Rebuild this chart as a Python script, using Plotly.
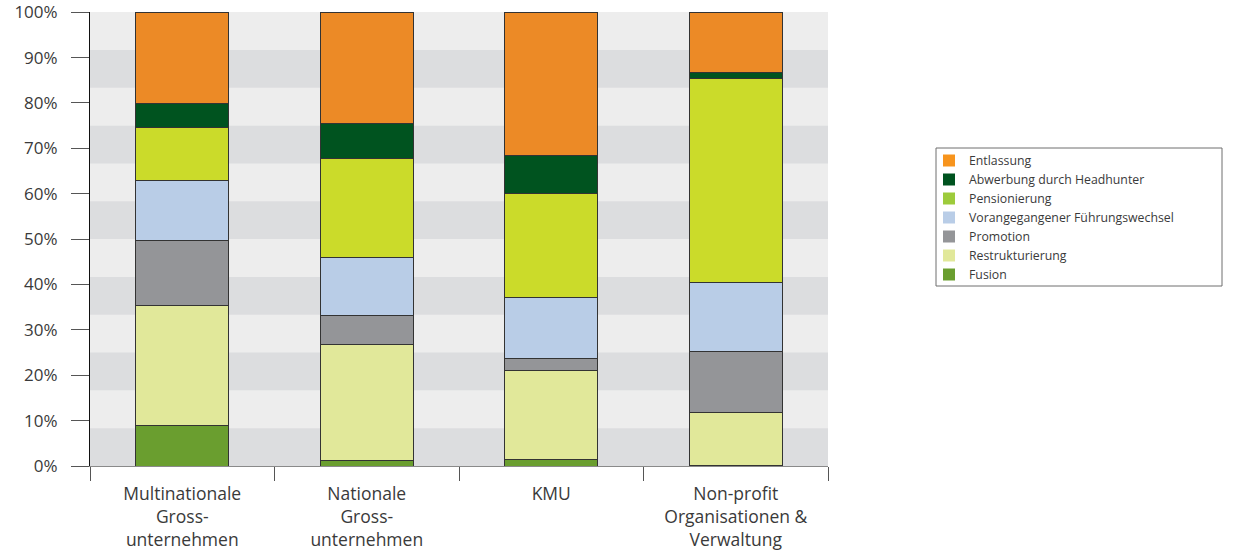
import plotly.graph_objects as go

# Categories (x axis) and stacked shares in percent, bottom to top
categories = [
    "Multinationale<br>Gross-<br>unternehmen",
    "Nationale<br>Gross-<br>unternehmen",
    "KMU",
    "Non-profit<br>Organisationen &<br>Verwaltung",
]

fusion = [9.0, 1.2, 1.5, 0.2]
restrukturierung = [26.4, 25.6, 19.6, 11.7]
promotion = [14.3, 6.4, 2.5, 13.3]
fuehrungswechsel = [13.2, 12.8, 13.6, 15.3]
pensionierung = [11.8, 21.8, 22.8, 45.0]
headhunter = [5.1, 7.7, 8.5, 1.3]
entlassung = [20.2, 24.5, 31.5, 13.2]

series_names = [
    "Fusion",
    "Restrukturierung",
    "Promotion",
    "Vorangegangener Führungswechsel",
    "Pensionierung",
    "Abwerbung durch Headhunter",
    "Entlassung",
]
series_values = [fusion, restrukturierung, promotion, fuehrungswechsel,
                 pensionierung, headhunter, entlassung]
bar_colors = ["#6A9E2F", "#E1E89A", "#949598", "#B9CDE7", "#CBDB2A", "#00531F", "#EC8A26"]
legend_colors = ["#6A9E2F", "#E1E89A", "#949598", "#B9CDE7", "#9DCB3B", "#00531F", "#F7941D"]

y_ticks = list(range(0, 101, 10))
y_tick_text = [f"{v}%" for v in y_ticks]

font_family = "Open Sans, DejaVu Sans, sans-serif"
text_color = "#3a3a3a"

fig = go.Figure()

for name, vals, col in zip(series_names, series_values, bar_colors):
    fig.add_trace(go.Bar(
        x=categories, y=vals, name=name, width=0.505,
        marker=dict(color=col, line=dict(color="#333333", width=1)),
        showlegend=False, hoverinfo="x+y+name",
    ))

# Legend entries (swatch colours as shown in the key)
for name, col in zip(series_names, legend_colors):
    fig.add_trace(go.Bar(
        x=[None], y=[None], name=name,
        marker=dict(color=col, line=dict(width=0)),
        showlegend=True,
    ))

# Alternating horizontal background bands (12 bands)
n_bands = 12
shapes = []
for k in range(n_bands):
    if k % 2 == 0:
        shapes.append(dict(
            type="rect", xref="paper", yref="y", layer="below",
            x0=0, x1=1, y0=k * 100 / n_bands, y1=(k + 1) * 100 / n_bands,
            fillcolor="#DCDDDF", line=dict(width=0),
        ))
# Legend frame
shapes.append(dict(
    type="rect", xref="paper", yref="paper",
    x0=(936 - 90) / 738, x1=(1222 - 90) / 738,
    y0=(466 - 286) / 454, y1=(466 - 148) / 454,
    line=dict(color="#6e6e6e", width=1), fillcolor="rgba(0,0,0,0)",
))

fig.update_layout(
    width=1255, height=552,
    margin=dict(l=90, r=427, t=12, b=86, autoexpand=False),
    barmode="stack",
    paper_bgcolor="white",
    plot_bgcolor="#EDEDED",
    font=dict(family=font_family, color=text_color),
    shapes=shapes,
    legend=dict(
        x=(929 - 90) / 738, y=(466 - 146) / 454,
        xanchor="left", yanchor="top",
        traceorder="reversed",
        font=dict(size=12.3, family=font_family, color=text_color),
        bgcolor="rgba(0,0,0,0)", borderwidth=0,
        itemclick=False, itemdoubleclick=False,
        tracegroupgap=0,
    ),
    xaxis=dict(
        type="category", automargin=False,
        showgrid=False,
        showline=True, linecolor="#8a8a8a", linewidth=1,
        ticks="outside", tickson="boundaries", ticklen=14,
        tickcolor="#555555", tickwidth=1,
        ticklabelstandoff=12,
        tickfont=dict(size=17.5, family=font_family, color=text_color),
        zeroline=False,
    ),
    yaxis=dict(
        range=[0, 100.05], automargin=False,
        tickvals=y_ticks, ticktext=y_tick_text,
        showgrid=False, zeroline=False,
        showline=True, linecolor="#111111", linewidth=1,
        ticks="outside", ticklen=18, tickcolor="#555555", tickwidth=1,
        ticklabelstandoff=10,
        tickfont=dict(size=17, family=font_family, color=text_color),
    ),
    bargap=0.49,
)

fig.write_html("out.html")
